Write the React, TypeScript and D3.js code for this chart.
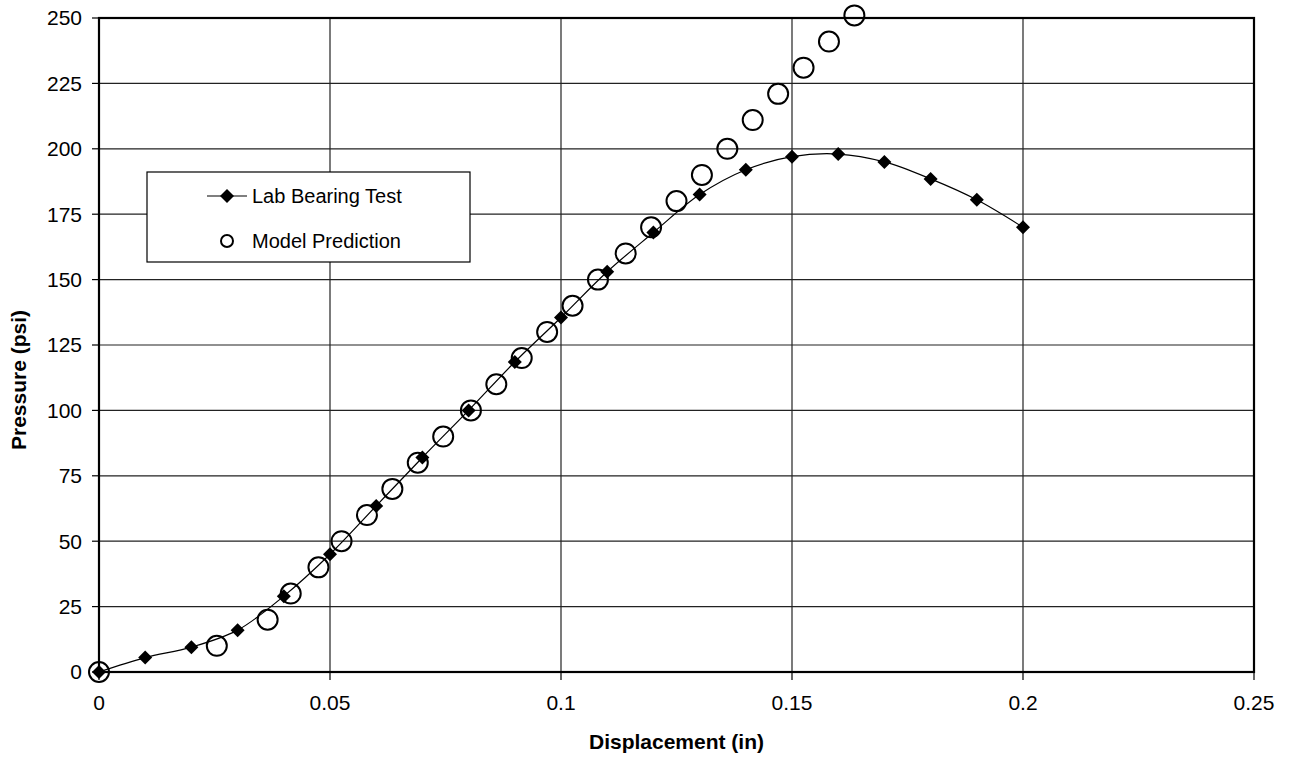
import React from "react";
import * as d3 from "d3";

const labX = [0, 0.01, 0.02, 0.03, 0.04, 0.05, 0.06, 0.07, 0.08, 0.09, 0.1, 0.11, 0.12, 0.13, 0.14, 0.15, 0.16, 0.17, 0.18, 0.19, 0.2];
const labY = [0, 5.5, 9.5, 16, 29, 45, 63.5, 82, 100, 118.5, 135.5, 153, 168, 182.5, 192, 197, 198, 195, 188.5, 180.5, 170];

const modelX = [0, 0.0255, 0.0365, 0.0415, 0.0475, 0.0525, 0.058, 0.0635, 0.069, 0.0745, 0.0805, 0.086, 0.0915, 0.097, 0.1025, 0.108, 0.114, 0.1195, 0.125, 0.1305, 0.136, 0.1415, 0.147, 0.1525, 0.158, 0.1635];
const modelY = [0, 10, 20, 30, 40, 50, 60, 70, 80, 90, 100, 110, 120, 130, 140, 150, 160, 170, 180, 190, 200, 211, 221, 231, 241, 251];

const xTicks = [0, 0.05, 0.1, 0.15, 0.2, 0.25];
const xTickLabels = ["0", "0.05", "0.1", "0.15", "0.2", "0.25"];
const yTicks = [0, 25, 50, 75, 100, 125, 150, 175, 200, 225, 250];

const W = 1289, H = 778;
const left = 99, right = 1254, top = 18, bottom = 672;
const font = "'Liberation Sans', Arial, sans-serif";

export default function App() {
  const x = d3.scaleLinear().domain([0, 0.25]).range([left, right]);
  const y = d3.scaleLinear().domain([0, 250]).range([bottom, top]);
  const line = d3.line<number>()
    .x((_, i) => x(labX[i]))
    .y((d) => y(d))
    .curve(d3.curveCatmullRom.alpha(0.5));
  const diamond = (cx: number, cy: number, r = 7) =>
    `M${cx},${cy - r}L${cx + r},${cy}L${cx},${cy + r}L${cx - r},${cy}Z`;

  return (
    <svg width={W} height={H} style={{ position: "absolute", left: 0, top: 0, background: "#fff" }}>
      <rect x={0} y={0} width={W} height={H} fill="#fff" />
      {yTicks.map((t) => (
        <line key={"gy" + t} x1={left} x2={right} y1={y(t)} y2={y(t)} stroke="#222" strokeWidth={1.2} />
      ))}
      {xTicks.map((t) => (
        <line key={"gx" + t} x1={x(t)} x2={x(t)} y1={top} y2={bottom} stroke="#222" strokeWidth={1.2} />
      ))}
      {yTicks.map((t) => (
        <line key={"ty" + t} x1={left - 7} x2={left} y1={y(t)} y2={y(t)} stroke="#000" strokeWidth={1.2} />
      ))}
      {xTicks.map((t) => (
        <line key={"tx" + t} x1={x(t)} x2={x(t)} y1={bottom} y2={bottom + 8} stroke="#000" strokeWidth={1.2} />
      ))}
      <rect x={left} y={top} width={right - left} height={bottom - top} fill="none" stroke="#000" strokeWidth={2.2} />
      {yTicks.map((t) => (
        <text key={"ly" + t} x={left - 17} y={y(t)} dy="0.35em" textAnchor="end" fontFamily={font} fontSize={21} fill="#000">
          {t}
        </text>
      ))}
      {xTicks.map((t, i) => (
        <text key={"lx" + t} x={x(t)} y={bottom + 31} dy="0.35em" textAnchor="middle" fontFamily={font} fontSize={21} fill="#000">
          {xTickLabels[i]}
        </text>
      ))}
      <text x={(left + right) / 2 + 0} y={742} dy="0.35em" textAnchor="middle" fontFamily={font} fontSize={21} fontWeight="bold">
        Displacement (in)
      </text>
      <text transform={`translate(19,${(top + bottom) / 2 + 35}) rotate(-90)`} dy="0.35em" textAnchor="middle" fontFamily={font} fontSize={21} fontWeight="bold">
        Pressure (psi)
      </text>
      <path d={line(labY) || ""} fill="none" stroke="#000" strokeWidth={1.2} />
      {labY.map((v, i) => (
        <path key={"d" + i} d={diamond(x(labX[i]), y(v))} fill="#000" />
      ))}
      {modelY.map((v, i) => (
        <circle key={"c" + i} cx={x(modelX[i])} cy={y(v)} r={10} fill="none" stroke="#000" strokeWidth={2} />
      ))}
      <rect x={147} y={172} width={323} height={90} fill="#fff" stroke="#000" strokeWidth={1.2} />
      <line x1={207} x2={247} y1={196} y2={196} stroke="#000" strokeWidth={1.2} />
      <path d={diamond(227, 196)} fill="#000" />
      <text x={252} y={196} dy="0.35em" fontFamily={font} fontSize={20}>Lab Bearing Test</text>
      <circle cx={227} cy={241} r={6} fill="none" stroke="#000" strokeWidth={2} />
      <text x={252} y={241} dy="0.35em" fontFamily={font} fontSize={20}>Model Prediction</text>
    </svg>
  );
}
